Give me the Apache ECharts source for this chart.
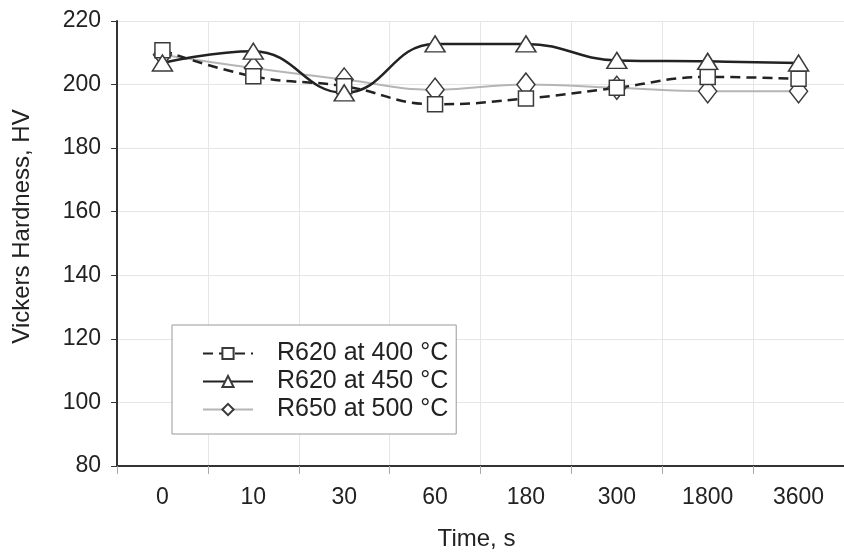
<!DOCTYPE html>
<html>
<head>
<meta charset="utf-8">
<script src="https://cdn.jsdelivr.net/npm/echarts@6/dist/echarts.min.js"></script>
<style>
  html, body { margin: 0; padding: 0; background: #fff; }
  #main { width: 844px; height: 556px; }
</style>
</head>
<body>
<div id="main"></div>
<script>
var times = ['0', '10', '30', '60', '180', '300', '1800', '3600'];
var r620at400 = [210.8, 202.6, 199.5, 193.8, 195.6, 199, 202.4, 201.8];
var r620at450 = [206.8, 210.5, 197.4, 212.8, 212.8, 207.6, 207.3, 206.8];
var r650at500 = [209.4, 205.2, 201.6, 198.4, 200, 199, 197.9, 197.9];

var chart = echarts.init(document.getElementById('main'));

var font = 'Liberation Sans, Arial, sans-serif';
var symbolStyle = { color: '#fff', borderColor: '#3a3a3a', borderWidth: 1.5 };

var option = {
  animation: false,
  textStyle: { fontFamily: font },
  grid: { left: 117, top: 21, width: 733, height: 449 },
  legend: {
    orient: 'vertical',
    left: 172,
    top: 325,
    padding: [16, 8, 12, 30],
    itemGap: 3,
    itemWidth: 50,
    itemHeight: 14,
    backgroundColor: '#fff',
    borderColor: '#999',
    borderWidth: 1,
    textStyle: { fontSize: 25, color: '#222', fontFamily: font, padding: [0, 0, 0, 19] },
    data: ['R620 at 400 °C', 'R620 at 450 °C', 'R650 at 500 °C']
  },
  xAxis: {
    type: 'category',
    data: times,
    boundaryGap: true,
    name: 'Time, s',
    nameLocation: 'middle',
    nameGap: 61,
    nameTextStyle: { fontSize: 24, color: '#222', padding: [0, 8, 0, 0] },
    axisLine: { lineStyle: { color: '#333', width: 2 } },
    axisTick: { show: true, length: 8, lineStyle: { color: '#aaa' } },
    axisLabel: { fontSize: 23, color: '#222', margin: 20 },
    splitLine: { show: true, lineStyle: { color: '#e6e6e6' } }
  },
  yAxis: {
    type: 'value',
    min: 80,
    max: 220,
    interval: 20,
    name: 'Vickers Hardness, HV',
    nameLocation: 'middle',
    nameGap: 83,
    nameTextStyle: { fontSize: 24, color: '#222', padding: [0, 0, 0, 34] },
    axisLine: { show: true, lineStyle: { color: '#333', width: 2 } },
    axisTick: { show: true, length: 6, lineStyle: { color: '#333' } },
    axisLabel: { fontSize: 23, color: '#222', margin: 16 },
    splitLine: { show: true, lineStyle: { color: '#e6e6e6' } }
  },
  series: [
    {
      name: 'R650 at 500 °C',
      type: 'line',
      smooth: 0.45,
      data: r650at500,
      symbol: 'diamond',
      symbolSize: [18, 23],
      itemStyle: symbolStyle,
      lineStyle: { color: '#b5b5b5', width: 2 }
    },
    {
      name: 'R620 at 400 °C',
      type: 'line',
      smooth: 0.45,
      data: r620at400,
      symbol: 'rect',
      symbolSize: 15,
      itemStyle: symbolStyle,
      lineStyle: { color: '#222', width: 2.5, type: [10, 6] }
    },
    {
      name: 'R620 at 450 °C',
      type: 'line',
      smooth: 0.45,
      data: r620at450,
      symbol: 'triangle',
      symbolSize: [20, 16],
      itemStyle: symbolStyle,
      lineStyle: { color: '#222', width: 2.5 }
    }
  ]
};

chart.setOption(option);
</script>
</body>
</html>
